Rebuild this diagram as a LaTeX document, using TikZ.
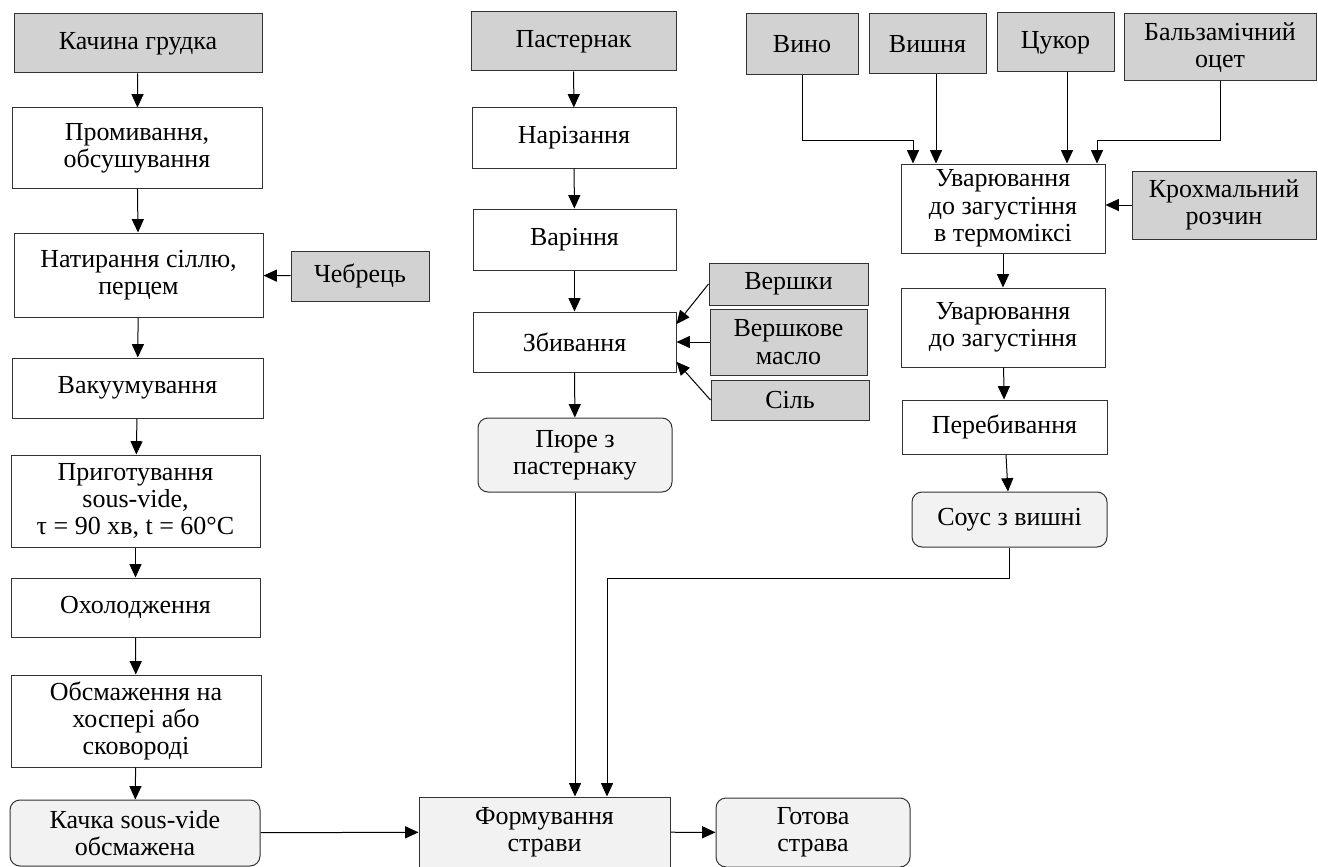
\documentclass[tikz,border=0pt]{standalone}
\usepackage{fontspec}
\setmainfont{Liberation Serif}
\usetikzlibrary{arrows.meta}

\begin{document}
\begin{tikzpicture}[x=0.75pt, y=-0.75pt,
    font=\fontsize{19.5}{20.5}\selectfont,
    stage/.style={rectangle, draw=black!80, line width=0.75pt, fill=white, align=center, inner sep=0pt},
    ingredient/.style={stage, fill=gray!35},
    product/.style={stage, fill=black!5, rounded corners=7.5pt},
    flow/.style={-{Triangle[length=10pt, width=9pt]}, line width=0.75pt, black}]
    \useasboundingbox (0,0) rectangle (1318,867);

    % Duck breast
    \node[ingredient, minimum width=186pt, minimum height=44.25pt] (DUCK) at (138,43.5) {Качина грудка};
    \node[stage, minimum width=187.5pt, minimum height=60pt] (WASH) at (137,148) {Промивання,\\обсушування};
    \node[stage, minimum width=186.75pt, minimum height=63pt] (RUB) at (138.5,275) {Натирання сіллю,\\перцем};
    \node[ingredient, minimum width=103.5pt, minimum height=37.5pt] (THYME) at (360,276) {Чебрець};
    \node[stage, minimum width=188.25pt, minimum height=45pt] (VAC) at (137.5,388) {Вакуумування};
    \node[stage, minimum width=186.75pt, minimum height=69pt] (SOUS) at (135.5,501) {Приготування\\sous-vide,\\τ = 90 хв, t = 60°C};
    \node[stage, minimum width=186.75pt, minimum height=44.25pt] (COOL) at (135.5,607.5) {Охолодження};
    \node[stage, minimum width=187.5pt, minimum height=69pt] (FRY) at (136,721) {Обсмаження на\\хоспері або\\сковороді};
    \node[product, minimum width=187.5pt, minimum height=49.5pt] (DUCKOUT) at (135,833) {Качка sous-vide\\обсмажена};

    % Parsnip
    \node[ingredient, minimum width=153.75pt, minimum height=44.25pt] (PARSNIP) at (573.5,41.5) {Пастернак};
    \node[stage, minimum width=153pt, minimum height=45pt] (CUT) at (574,138) {Нарізання};
    \node[stage, minimum width=152.25pt, minimum height=45.75pt] (BOIL) at (574.5,239.5) {Варіння};
    \node[stage, minimum width=152.25pt, minimum height=45pt] (WHIP) at (574.5,342) {Збивання};
    \node[ingredient, minimum width=119.25pt, minimum height=31.5pt] (CREAM) at (788.5,284) {Вершки};
    \node[ingredient, minimum width=117.75pt, minimum height=49.5pt] (BUTTER) at (788.5,342) {Вершкове\\масло};
    \node[ingredient, minimum width=118.5pt, minimum height=30pt] (SALT) at (790,400) {Сіль};
    \node[product, minimum width=145.5pt, minimum height=55.5pt] (PUREE) at (575,455) {Пюре з\\пастернаку};

    % Cherry sauce
    \node[ingredient, minimum width=84pt, minimum height=45.75pt] (WINE) at (802,44.5) {Вино};
    \node[ingredient, minimum width=87.75pt, minimum height=45pt] (CHERRY) at (927.5,44) {Вишня};
    \node[ingredient, minimum width=87.75pt, minimum height=44.25pt] (SUGAR) at (1055.5,42.5) {Цукор};
    \node[ingredient, minimum width=144pt, minimum height=50.25pt] (BALSAMIC) at (1220,47.5) {Бальзамічний\\оцет};
    \node[stage, minimum width=153pt, minimum height=66.75pt] (THERMO) at (1003,208.5) {Уварювання\\до загустіння\\в термоміксі};
    \node[ingredient, minimum width=138pt, minimum height=51pt] (STARCH) at (1224,205) {Крохмальний\\розчин};
    \node[stage, minimum width=153pt, minimum height=59.25pt] (REDUCE) at (1003,327.5) {Уварювання\\до загустіння};
    \node[stage, minimum width=153.75pt, minimum height=40.5pt] (BLEND) at (1004.5,427) {Перебивання};
    \node[product, minimum width=146.25pt, minimum height=41.25pt] (SAUCE) at (1009.5,519.5) {Соус з вишні};

    % Serving
    \node[stage, fill=black!5, minimum width=188.25pt, minimum height=52.5pt] (PLATE) at (544.5,832) {Формування\\страви};
    \node[product, minimum width=145.5pt, minimum height=51.75pt] (READY) at (813,832.5) {Готова\\страва};

    % Bend points
    \coordinate (WINEBEND) at (913,140);
    \coordinate (CHERRYIN) at (936,140);
    \coordinate (SUGARIN) at (1067,140);
    \coordinate (BALSAMICBEND) at (1097,140);
    \coordinate (SAUCEBEND) at (607,578);

    % Duck line
    \draw[flow] (DUCK) -- (WASH);
    \draw[flow] (WASH) -- (RUB);
    \draw[flow] (THYME) -- (RUB);
    \draw[flow] (RUB) -- (VAC);
    \draw[flow] (VAC) -- (SOUS);
    \draw[flow] (SOUS) -- (COOL);
    \draw[flow] (COOL) -- (FRY);
    \draw[flow] (FRY) -- (DUCKOUT);
    \draw[flow] (DUCKOUT) -- (PLATE);

    % Parsnip line
    \draw[flow] (PARSNIP) -- (CUT);
    \draw[flow] (CUT) -- (BOIL);
    \draw[flow] (BOIL) -- (WHIP);
    \draw[flow] (CREAM.west) -- (WHIP.10);
    \draw[flow] (BUTTER) -- (WHIP);
    \draw[flow] (SALT.west) -- (WHIP.-11);
    \draw[flow] (WHIP) -- (PUREE);
    \draw[flow] (PUREE) -- (PUREE |- PLATE.north);

    % Sauce line
    \draw[flow] (WINE.south) |- (WINEBEND) -- (WINEBEND |- THERMO.north);
    \draw[flow] (CHERRY.south -| CHERRYIN) -- (CHERRYIN |- THERMO.north);
    \draw[flow] (SUGAR.south -| SUGARIN) -- (SUGARIN |- THERMO.north);
    \draw[flow] (BALSAMIC.south) |- (BALSAMICBEND) -- (BALSAMICBEND |- THERMO.north);
    \draw[flow] (STARCH.west) -- (STARCH.west -| THERMO.east);
    \draw[flow] (THERMO) -- (REDUCE);
    \draw[flow] (REDUCE) -- (BLEND);
    \draw[flow] (BLEND) -- (SAUCE);
    \draw[flow] (SAUCE.south) |- (SAUCEBEND) -- (SAUCEBEND |- PLATE.north);

    % Final dish
    \draw[flow] (PLATE) -- (READY);
\end{tikzpicture}
\end{document}
